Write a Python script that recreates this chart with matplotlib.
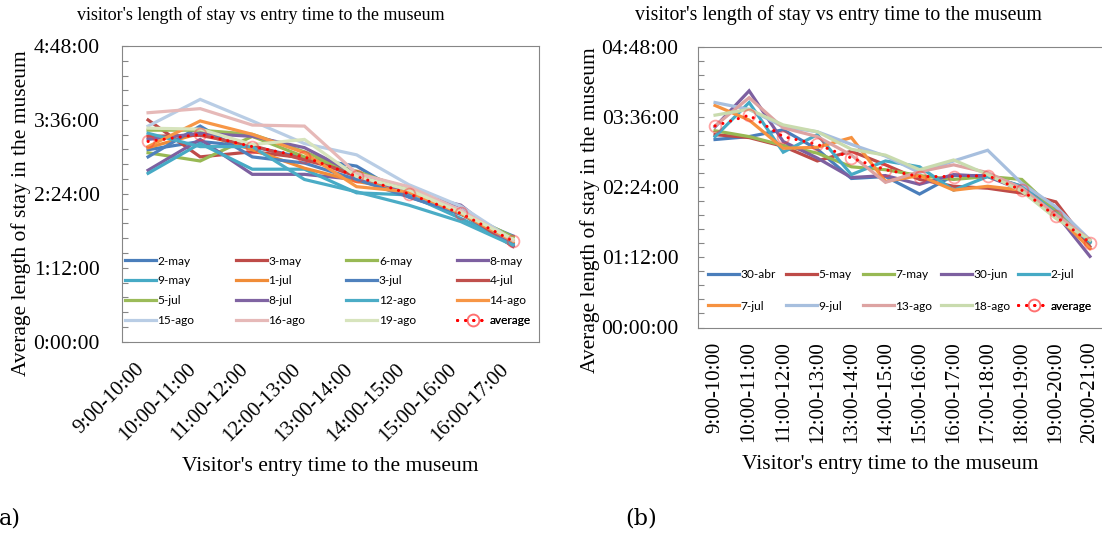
import matplotlib.pyplot as plt
from matplotlib.ticker import FuncFormatter, MultipleLocator

# entry time slots
slots_a = ['9:00-10:00', '10:00-11:00', '11:00-12:00', '12:00-13:00',
           '13:00-14:00', '14:00-15:00', '15:00-16:00', '16:00-17:00']
slots_b = ['9:00-10:00', '10:00-11:00', '11:00-12:00', '12:00-13:00',
           '13:00-14:00', '14:00-15:00', '15:00-16:00', '16:00-17:00',
           '17:00-18:00', '18:00-19:00', '19:00-20:00', '20:00-21:00']

# chart (a): average length of stay, in minutes
a_2may = [187, 195, 190, 179, 171, 141, 124, 103]
a_3may = [216, 180, 185, 179, 161, 146, 125, 93]
a_6may = [184, 176, 200, 180, 166, 148, 127, 102]
a_8may = [167, 197, 163, 163, 158, 145, 132, 94]
a_9may = [164, 193, 168, 168, 145, 143, 120, 96]
a_1jul = [189, 203, 187, 169, 156, 148, 125, 96]
a_3jul = [180, 210, 180, 174, 158, 141, 125, 95]
a_4jul = [200, 201, 191, 177, 164, 146, 127, 93]
a_5jul = [206, 206, 202, 185, 164, 150, 125, 101]
a_8jul = [197, 203, 200, 189, 163, 145, 133, 93]
a_12ago = [203, 190, 190, 158, 146, 133, 117, 94]
a_14ago = [190, 215, 202, 184, 151, 146, 125, 98]
a_15ago = [210, 236, 215, 193, 182, 153, 132, 99]
a_16ago = [223, 227, 211, 210, 164, 151, 128, 99]
a_19ago = [208, 207, 192, 197, 161, 148, 126, 100]
a_avg = [195, 202, 190, 180, 161, 144, 125, 98]

# chart (b): average length of stay, in minutes
b_30abr = [193, 196, 203, 183, 153, 155, 137, 156, 156, 145, 121, 87]
b_5may = [198, 195, 186, 171, 181, 167, 152, 145, 143, 138, 129, 83]
b_7may = [202, 196, 187, 179, 165, 162, 156, 152, 155, 152, 119, 88]
b_30jun = [206, 243, 191, 174, 154, 156, 147, 157, 155, 141, 117, 73]
b_2jul = [196, 231, 180, 198, 157, 171, 165, 141, 155, 145, 117, 88]
b_7jul = [228, 213, 184, 185, 195, 150, 156, 141, 145, 141, 116, 81]
b_9jul = [231, 224, 206, 201, 188, 176, 159, 171, 182, 148, 124, 90]
b_13ago = [207, 236, 205, 196, 177, 149, 160, 167, 159, 143, 116, 90]
b_18ago = [218, 224, 208, 201, 183, 177, 162, 172, 157, 140, 112, 90]
b_avg = [207, 218, 196, 188, 174, 162, 155, 155, 156, 141, 114, 87]

names_a = ['2-may', '3-may', '6-may', '8-may', '9-may', '1-jul', '3-jul', '4-jul',
           '5-jul', '8-jul', '12-ago', '14-ago', '15-ago', '16-ago', '19-ago']
values_a = [a_2may, a_3may, a_6may, a_8may, a_9may, a_1jul, a_3jul, a_4jul,
            a_5jul, a_8jul, a_12ago, a_14ago, a_15ago, a_16ago, a_19ago]
colors_a = ['#4A7EBB', '#BE4B48', '#98B954', '#7D60A0', '#46AAC5', '#F08C38',
            '#4F81BD', '#C0504D', '#9BBB59', '#8064A2', '#4BACC6', '#F79646',
            '#B9CDE5', '#E6B9B8', '#D7E4BD']

names_b = ['30-abr', '5-may', '7-may', '30-jun', '2-jul', '7-jul', '9-jul', '13-ago', '18-ago']
values_b = [b_30abr, b_5may, b_7may, b_30jun, b_2jul, b_7jul, b_9jul, b_13ago, b_18ago]
colors_b = ['#4A7EBB', '#BE4B48', '#98B954', '#7D60A0', '#46AAC5', '#F69240',
            '#A7BFDE', '#DDA3A2', '#C9DBAE']

W, H = 1102, 535
fig = plt.figure(figsize=(W / 100, H / 100), dpi=100)
serif = 'Liberation Serif'


def fx(px):
    return px / W


def fy(py):
    return 1 - py / H


def hms(lead_zero):
    def f(v, pos):
        h, m = divmod(int(round(v)), 60)
        return f"{h:02d}:{m:02d}:00" if lead_zero else f"{h}:{m:02d}:00"
    return FuncFormatter(f)


def setup_axes(ax, slots, rot, lead_zero, xpad, ypad):
    ax.set_xlim(-0.5, len(slots) - 0.5)
    ax.set_ylim(0, 288)
    ax.set_xticks(range(len(slots)))
    if rot == 45:
        ax.set_xticklabels(slots, rotation=45, ha='right', va='top',
                           family=serif, fontsize=15)
    else:
        ax.set_xticklabels(slots, rotation=90, ha='center', va='top',
                           family=serif, fontsize=15)
    ax.tick_params(axis='x', length=0, pad=xpad)
    ax.yaxis.set_major_locator(MultipleLocator(72))
    ax.yaxis.set_minor_locator(MultipleLocator(14.4))
    ax.yaxis.set_major_formatter(hms(lead_zero))
    ax.tick_params(axis='y', which='both', direction='in', length=4,
                   color='#868686', width=0.8, pad=ypad)
    for lab in ax.get_yticklabels():
        lab.set_family(serif)
        lab.set_fontsize(15.5)
    for sp in ax.spines.values():
        sp.set_color('#868686')
        sp.set_linewidth(0.8)


def add_avg(ax, x, y):
    return ax.plot(x, y, color='#FF0000', lw=2.2, ls=(0, (0.05, 2.6)),
                   dash_capstyle='round', marker='o', ms=8.5, mfc='none',
                   mec=(1, 0.2, 0.2, 0.45), mew=1.3, zorder=5)[0]


def put_legend(ax, handle, label, px, py):
    leg = ax.legend([handle], [label], loc='center left',
                    bbox_to_anchor=(fx(px), fy(py)), bbox_transform=fig.transFigure,
                    frameon=False, prop={'family': 'Lato', 'size': 8.6},
                    handlelength=2.6, handletextpad=0.12, borderpad=0,
                    borderaxespad=0, numpoints=1)
    ax.add_artist(leg)


# ---- chart (a)
ax1 = fig.add_axes([fx(122), fy(341.7), fx(539 - 122), (341.7 - 46) / H])
xa = range(len(slots_a))
handles_a = []
for name, vals, col in zip(names_a, values_a, colors_a):
    handles_a.append(ax1.plot(xa, vals, color=col, lw=2.3, solid_joinstyle='miter')[0])
handles_a.append(add_avg(ax1, xa, a_avg))
setup_axes(ax1, slots_a, 45, False, 13, 16)
labels_a = names_a + ['average']
for i, (h, lab) in enumerate(zip(handles_a, labels_a)):
    put_legend(ax1, h, lab, 125 + (i % 4) * 110.7, 261 + (i // 4) * 20)

# ---- chart (b)
ax2 = fig.add_axes([fx(698), fy(327.5), fx(1107 - 698), (327.5 - 47) / H])
xb = range(len(slots_b))
handles_b = []
for name, vals, col in zip(names_b, values_b, colors_b):
    handles_b.append(ax2.plot(xb, vals, color=col, lw=2.3, solid_joinstyle='miter')[0])
handles_b.append(add_avg(ax2, xb, b_avg))
setup_axes(ax2, slots_b, 90, True, 10, 14)
labels_b = names_b + ['average']
for i, (h, lab) in enumerate(zip(handles_b, labels_b)):
    put_legend(ax2, h, lab, 708 + (i % 5) * 77.5, 275 + (i // 5) * 31)

# ---- titles and axis labels
title = "visitor's length of stay vs entry time to the museum"
fig.text(fx(261), fy(15), title, ha='center', va='center', family=serif, fontsize=13)
fig.text(fx(838), fy(15), title, ha='center', va='center', family=serif, fontsize=14.3)
ylab = 'Average length of stay in the museum'
fig.text(fx(21), fy(213), ylab, rotation=90, ha='center', va='center', family=serif, fontsize=15.5)
fig.text(fx(590), fy(210), ylab, rotation=90, ha='center', va='center', family=serif, fontsize=15.5)
xlab = "Visitor's entry time to the museum"
fig.text(fx(330), fy(467), xlab, ha='center', va='center', family=serif, fontsize=15.5)
fig.text(fx(890), fy(465), xlab, ha='center', va='center', family=serif, fontsize=15.5)
fig.text(fx(-1), fy(519), 'a)', ha='left', va='center', family='DejaVu Serif', fontsize=16)
fig.text(fx(625), fy(519), '(b)', ha='left', va='center', family='DejaVu Serif', fontsize=16)

fig.savefig('out.png', dpi=100)
